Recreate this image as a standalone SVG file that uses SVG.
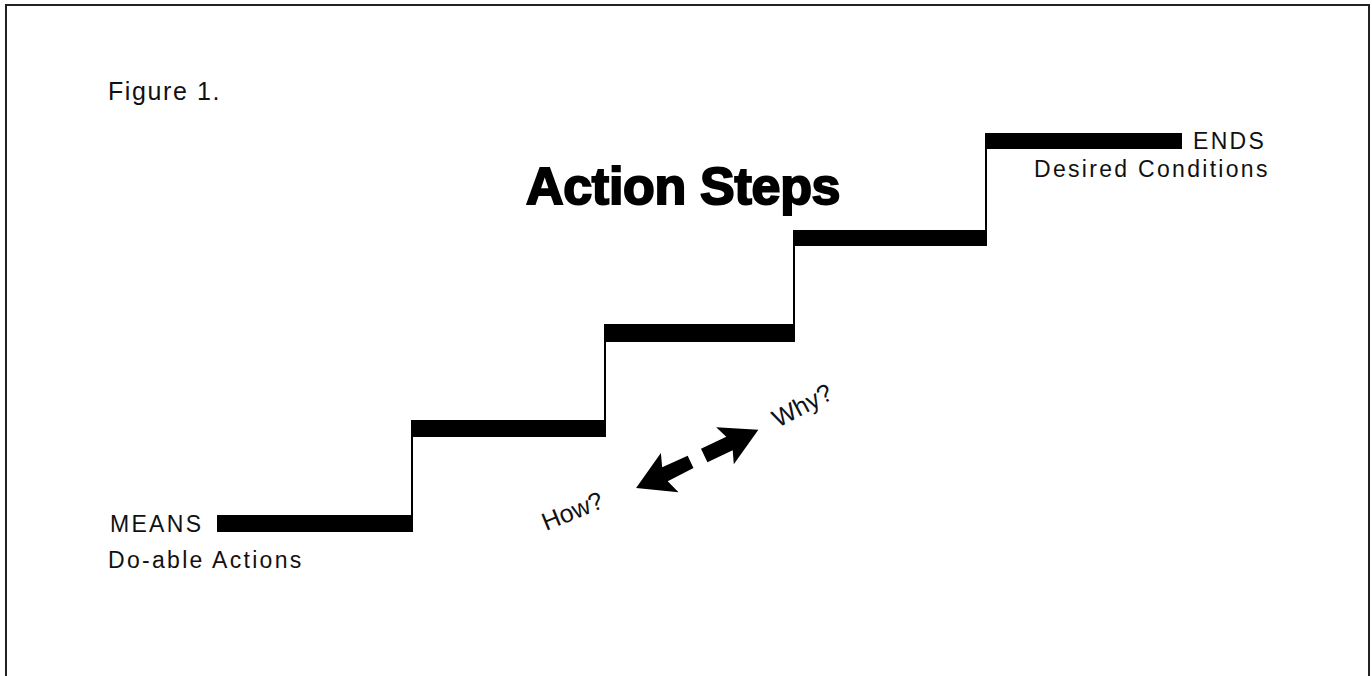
<svg xmlns="http://www.w3.org/2000/svg" width="1372" height="676" viewBox="0 0 1372 676">
  <style>
    .label { font-family: "Liberation Sans", Arial, sans-serif; font-size: 23px; fill: #111; letter-spacing: 2.3px; }
    .ask { font-family: "Liberation Sans", Arial, sans-serif; font-size: 25px; fill: #111; }
    .title { font-family: "Liberation Sans", Arial, sans-serif; font-size: 52px; font-weight: bold; fill: #000; stroke: #000; stroke-width: 2; letter-spacing: -0.3px; }
    .tread { fill: #000; }
    .riser { stroke: #000; stroke-width: 2; fill: none; }
    .frame { stroke: #222; stroke-width: 2; fill: none; }
    .arrow { fill: #000; }
  </style>

  <rect x="0" y="0" width="1372" height="676" fill="#fff"/>

  <!-- page frame: left, top and right edges -->
  <path class="frame" d="M6,676 V5 H1369 V676"/>

  <g id="caption">
    <text class="label" x="108" y="100" style="font-size:25px;letter-spacing:1.6px">Figure 1.</text>
  </g>

  <g id="title">
    <text class="title" x="526" y="204">Action Steps</text>
  </g>

  <!-- the staircase: five treads joined by thin risers -->
  <g id="steps">
    <rect class="tread" x="217" y="515" width="195" height="17"/>
    <rect class="tread" x="411" y="420" width="194" height="17"/>
    <rect class="tread" x="604" y="324" width="190" height="18"/>
    <rect class="tread" x="793" y="230" width="194" height="16"/>
    <rect class="tread" x="985" y="133" width="197" height="16"/>
    <line class="riser" x1="412" y1="421" x2="412" y2="532"/>
    <line class="riser" x1="605" y1="325" x2="605" y2="437"/>
    <line class="riser" x1="794" y1="231" x2="794" y2="342"/>
    <line class="riser" x1="986" y1="134" x2="986" y2="246"/>
  </g>

  <g id="means">
    <text class="label" x="110" y="532">MEANS</text>
    <text class="label" x="108" y="568">Do-able Actions</text>
  </g>

  <g id="ends">
    <text class="label" x="1193" y="149">ENDS</text>
    <text class="label" x="1034" y="177">Desired Conditions</text>
  </g>

  <!-- two-way arrow between How? and Why? -->
  <g id="connectors">
    <g transform="translate(697,459) rotate(-25.5)">
      <polygon class="arrow" points="8,-7.5 36,-7.5 31,-20.5 68,0 31,20.5 36,7.5 8,7.5"/>
      <polygon class="arrow" points="-7,-7 -35,-7.5 -30,-21 -67.5,0 -31,22 -36,7.5 -7,6.5"/>
    </g>
    <text class="ask" transform="translate(546,531) rotate(-22)">How?</text>
    <text class="ask" transform="translate(778,428) rotate(-28)">Why?</text>
  </g>
</svg>
